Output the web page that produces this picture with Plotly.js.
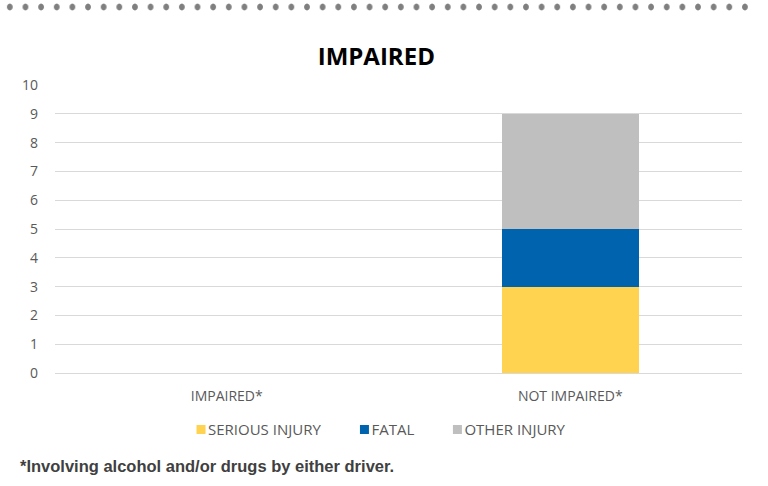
<!DOCTYPE html>
<html>
<head>
<meta charset="utf-8">
<script src="https://cdn.plot.ly/plotly-3.0.1.min.js"></script>
<style>
  html, body { margin: 0; padding: 0; background: #fff; }
  #wrap { position: relative; width: 768px; height: 486px; overflow: hidden; }
  #chart { position: absolute; left: 0; top: 0; width: 768px; height: 486px; }
  #dots {
    position: absolute; left: 1.5px; top: 2px; width: 751px; height: 10px;
    background-image: radial-gradient(ellipse 3.3px 3.9px at center, #7f7f7f 72%, rgba(127,127,127,0) 100%);
    background-size: 15.65px 10px; background-repeat: repeat-x; z-index: 2;
  }
</style>
</head>
<body>
<div id="wrap">
  <div id="chart"></div>
  <div id="dots"></div>
</div>
<script>
const categories = ["IMPAIRED*", "NOT IMPAIRED*"];
const seriousInjury = [0, 3];
const fatal = [0, 2];
const otherInjury = [0, 4];
const seriesNames = ["SERIOUS INJURY", "FATAL", "OTHER INJURY"];
const yTicks = [0, 1, 2, 3, 4, 5, 6, 7, 8, 9, 10];
const footnote = "*Involving alcohol and/or drugs by either driver.";
const chartTitle = "IMPAIRED";

const colors = ["#FFD34F", "#0063AD", "#BFBFBF"];
const series = [seriousInjury, fatal, otherInjury];

const data = series.map((vals, i) => ({
  type: "bar",
  x: categories,
  y: vals,
  name: seriesNames[i],
  marker: { color: colors[i], line: { width: 0 } },
  hoverinfo: "skip"
}));

const layout = {
  width: 768, height: 486,
  margin: { l: 55, r: 26, t: 85, b: 113 },
  paper_bgcolor: "#fff", plot_bgcolor: "#fff",
  barmode: "stack",
  bargap: 0.6,
  font: { family: "Open Sans, sans-serif", color: "#595959", size: 14 },
  title: {
    text: "<b>" + chartTitle + "</b>",
    font: { family: "Open Sans, sans-serif", size: 24, color: "#000" },
    x: 0.49, xanchor: "center", y: 0.883, yanchor: "middle"
  },
  xaxis: {
    type: "category",
    showgrid: false, zeroline: false,
    showline: true, linecolor: "#D9D9D9", linewidth: 1,
    ticks: "", tickfont: { size: 14, color: "#595959" },
    ticklabelstandoff: 10,
    fixedrange: true
  },
  yaxis: {
    range: [0, 10], tickvals: yTicks, ticktext: yTicks.map(String),
    showgrid: true, gridcolor: "#D9D9D9", gridwidth: 1,
    zeroline: false, showline: false, ticks: "",
    tickfont: { size: 14, color: "#595959" },
    ticklabelstandoff: 16,
    fixedrange: true
  },
  legend: {
    orientation: "h", x: 0.1645, xanchor: "left", y: -0.197, yanchor: "middle",
    font: { size: 15, color: "#595959" },
    traceorder: "normal", itemclick: false, itemdoubleclick: false
  },
  annotations: [{
    xref: "paper", yref: "paper", x: -0.054, y: -0.323, xanchor: "left", yanchor: "middle",
    text: "<b>" + footnote + "</b>", showarrow: false,
    font: { family: "Liberation Sans, Arial, sans-serif", size: 16.5, color: "#404040" }
  }]
};

Plotly.newPlot("chart", data, layout, { displayModeBar: false, staticPlot: true }).then(() => {
  document.querySelectorAll("#chart .legend [clip-path]").forEach(el => el.removeAttribute("clip-path"));
  document.querySelectorAll("#chart .legend .legendpoints").forEach(g => {
    g.setAttribute("transform", "translate(33,0) scale(0.75) translate(-20,0)");
  });
  document.querySelectorAll("#chart .legend .traces").forEach((g, i) => {
    const t = g.getAttribute("transform") || "";
    const m = t.match(/translate\(\s*([-\d.e]+)[ ,]+([-\d.e]+)\s*\)/);
    if (m) {
      g.setAttribute("transform", "translate(" + (parseFloat(m[1]) + 5 * i) + "," + m[2] + ")");
    }
  });
});
</script>
</body>
</html>
